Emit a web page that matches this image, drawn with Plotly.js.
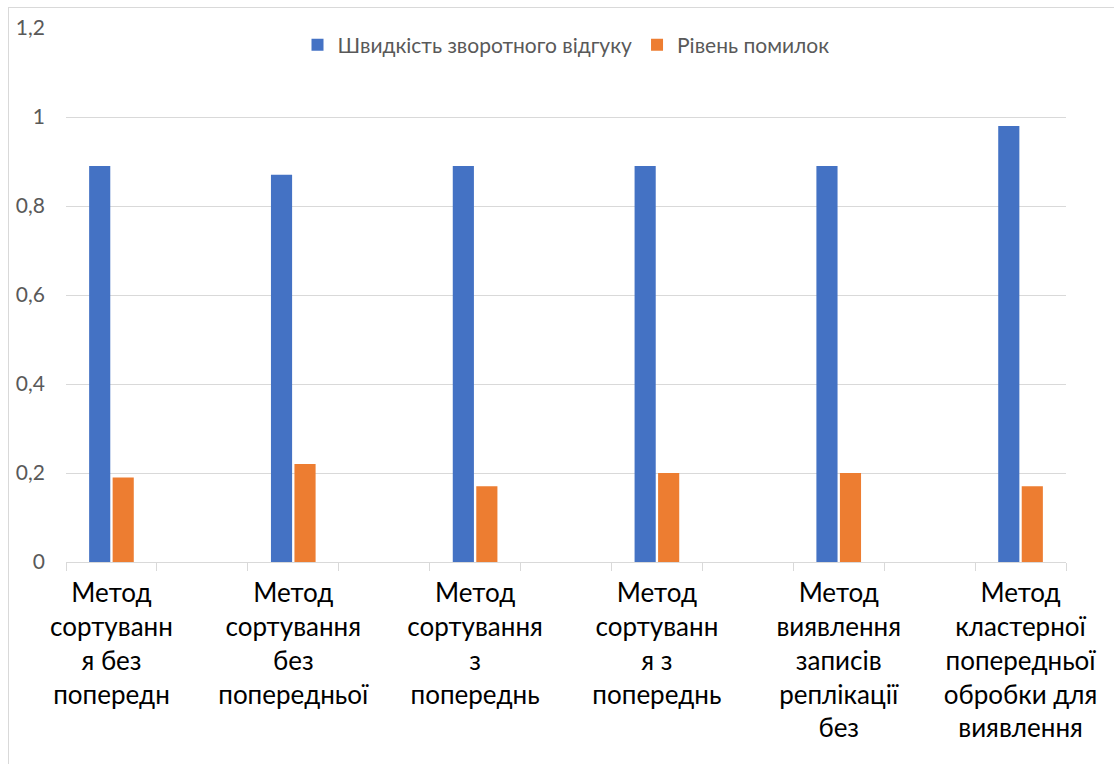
<!DOCTYPE html>
<html>
<head>
<meta charset="utf-8">
<script src="https://cdn.plot.ly/plotly-3.0.1.min.js"></script>
<style>
  html, body { margin: 0; padding: 0; background: #ffffff; }
  #wrap { position: relative; width: 1114px; height: 764px; overflow: hidden; }
  #chart { position: absolute; left: 0; top: 0; width: 1114px; height: 764px; }
  #frame { position: absolute; left: 8px; top: 7px; width: 1200px; height: 900px;
           border-left: 1px solid #d9d9d9; border-top: 1px solid #d9d9d9; pointer-events: none; }
</style>
</head>
<body>
<div id="wrap">
  <div id="chart"></div>
  <div id="frame"></div>
</div>
<script>
// Category slots (11 slots on the axis; data sits in every other one)
const slotPositions = [0, 2, 4, 6, 8, 10];
const categoryLabels = [
  "Метод<br>сортуванн<br>я без<br>попередн",
  "Метод<br>сортування<br>без<br>попередньої",
  "Метод<br>сортування<br>з<br>попереднь",
  "Метод<br>сортуванн<br>я з<br>попереднь",
  "Метод<br>виявлення<br>записів<br>реплікації<br>без",
  "Метод<br>кластерної<br>попередньої<br>обробки для<br>виявлення"
];
const boundaryTicks = [-0.5, 0.5, 1.5, 2.5, 3.5, 4.5, 5.5, 6.5, 7.5, 8.5, 9.5, 10.5];

const seriesNames = ["Швидкість зворотного відгуку", "Рівень помилок"];
const responseSpeed = [0.89, 0.87, 0.89, 0.89, 0.89, 0.98];
const errorRate = [0.19, 0.22, 0.17, 0.20, 0.20, 0.17];
const yTicks = [0, 0.2, 0.4, 0.6, 0.8, 1, 1.2];

const FONT = "Lato, 'Open Sans', 'DejaVu Sans', sans-serif";

const traces = [
  { type: "bar", name: seriesNames[0], x: slotPositions, y: responseSpeed,
    marker: { color: "#4472C4" }, hoverinfo: "y" },
  { type: "bar", name: seriesNames[1], x: slotPositions, y: errorRate,
    marker: { color: "#ED7D31" }, hoverinfo: "y" },
  // invisible helper trace to carry the boundary tick axis
  { type: "scatter", x: [-0.5, 10.5], y: [0, 0], xaxis: "x2", mode: "none",
    showlegend: false, hoverinfo: "skip" }
];

const layout = {
  width: 1114, height: 764,
  margin: { l: 66, r: 48, t: 28, b: 202 },
  paper_bgcolor: "rgba(0,0,0,0)",
  plot_bgcolor: "rgba(0,0,0,0)",
  separators: ", ",
  barmode: "group",
  bargap: 0.7415,
  bargroupgap: 0.1,
  font: { family: FONT, color: "#595959" },
  showlegend: true,
  legend: {
    orientation: "h", x: 0.5, xanchor: "center", y: 0.968, yanchor: "middle",
    font: { family: FONT, size: 21, color: "#595959" },
    bgcolor: "rgba(0,0,0,0)", itemwidth: 30, traceorder: "normal"
  },
  xaxis: {
    type: "linear", range: [-0.5, 10.5], fixedrange: true,
    tickmode: "array", tickvals: slotPositions, ticktext: categoryLabels,
    ticks: "", showgrid: false, zeroline: false,
    showline: true, linecolor: "#d9d9d9", linewidth: 1,
    tickfont: { family: FONT, size: 26, color: "#000000" },
    ticklabelstandoff: 8
  },
  xaxis2: {
    type: "linear", overlaying: "x", matches: "x", range: [-0.5, 10.5],
    side: "bottom", anchor: "y",
    tickmode: "array", tickvals: boundaryTicks, showticklabels: false,
    ticks: "outside", ticklen: 8, tickcolor: "#d9d9d9", tickwidth: 1,
    showgrid: false, zeroline: false, showline: false
  },
  yaxis: {
    range: [0, 1.2], fixedrange: true,
    tickmode: "array", tickvals: yTicks,
    showgrid: true, gridcolor: "#d9d9d9", gridwidth: 1,
    zeroline: false, showline: false, ticks: "",
    tickfont: { family: FONT, size: 21, color: "#595959" },
    ticklabelstandoff: 20
  }
};

Plotly.newPlot("chart", traces, layout, { displayModeBar: false, staticPlot: true });
</script>
</body>
</html>
